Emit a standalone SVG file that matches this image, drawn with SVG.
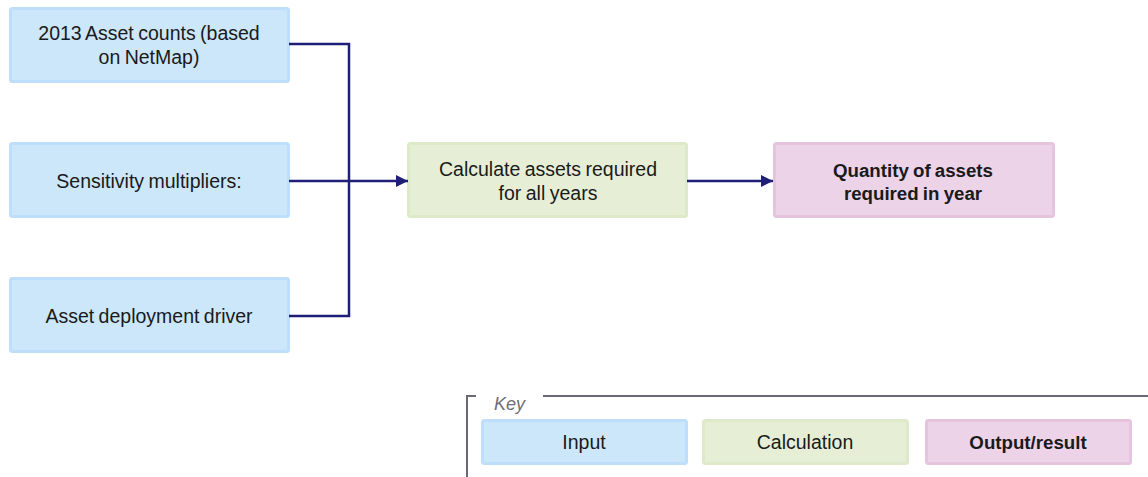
<svg xmlns="http://www.w3.org/2000/svg" width="1148" height="477" viewBox="0 0 1148 477">
  <style>
    text { font-family: "Liberation Sans", Arial, sans-serif; font-size: 19.5px; word-spacing: -1px; fill: #1a1a1a; text-anchor: middle; dominant-baseline: central; }
    .input rect { fill: #cce6fa; stroke: #bddffb; stroke-width: 3; }
    .calc rect { fill: #e6efd6; stroke: #dde9c9; stroke-width: 3; }
    .output rect { fill: #ecd3e8; stroke: #e6c4df; stroke-width: 3; }
    .output text { font-weight: bold; font-size: 18.7px; }
    .conn { fill: none; stroke: #1f1f78; stroke-width: 2.5; }
    .frame { fill: none; stroke: #6a6875; stroke-width: 2; }
    .keylabel { font-style: italic; fill: #6e6e78; text-anchor: start; font-size: 18px; }
  </style>
  <defs>
    <marker id="arrow" viewBox="0 0 10 10" refX="10" refY="5" markerWidth="5" markerHeight="5" markerUnits="strokeWidth" orient="auto">
      <path d="M0,0 L10,5 L0,10 z" fill="#1f1f78"/>
    </marker>
  </defs>

  <rect width="1148" height="477" fill="#ffffff"/>

  <!-- Input nodes -->
  <g id="asset-counts" class="input">
    <rect x="10.5" y="8.5" width="278" height="73" rx="2"/>
    <text x="149" y="33">2013 Asset counts (based</text>
    <text x="149" y="57">on NetMap)</text>
  </g>
  <g id="sensitivity" class="input">
    <rect x="10.5" y="143.5" width="278" height="73" rx="2"/>
    <text x="149" y="181">Sensitivity multipliers:</text>
  </g>
  <g id="deployment-driver" class="input">
    <rect x="10.5" y="278.5" width="278" height="73" rx="2"/>
    <text x="149" y="316">Asset deployment driver</text>
  </g>

  <!-- Calculation node -->
  <g id="calculate" class="calc">
    <rect x="408.5" y="143.5" width="278" height="73" rx="2"/>
    <text x="548" y="169">Calculate assets required</text>
    <text x="548" y="193">for all years</text>
  </g>

  <!-- Output node -->
  <g id="quantity" class="output">
    <rect x="774.5" y="143.5" width="279" height="73" rx="2"/>
    <text x="913" y="170">Quantity of assets</text>
    <text x="913" y="193">required in year</text>
  </g>

  <!-- Connectors -->
  <g id="connectors">
    <path class="conn" d="M289,44 H349 V316 H289"/>
    <path class="conn" d="M289,181 H408" marker-end="url(#arrow)"/>
    <path class="conn" d="M687,181 H773" marker-end="url(#arrow)"/>
  </g>

  <!-- Legend -->
  <g id="key">
    <path class="frame" d="M476,396 H467 V477"/>
    <path class="frame" d="M543,396 H1148"/>
    <text class="keylabel" x="494" y="404">Key</text>
    <g id="key-input" class="input">
      <rect x="482.5" y="420.5" width="204" height="43" rx="2"/>
      <text x="584" y="442">Input</text>
    </g>
    <g id="key-calc" class="calc">
      <rect x="703.5" y="420.5" width="204" height="43" rx="2"/>
      <text x="805" y="442">Calculation</text>
    </g>
    <g id="key-output" class="output">
      <rect x="926.5" y="420.5" width="204" height="43" rx="2"/>
      <text x="1028" y="442">Output/result</text>
    </g>
  </g>
</svg>
